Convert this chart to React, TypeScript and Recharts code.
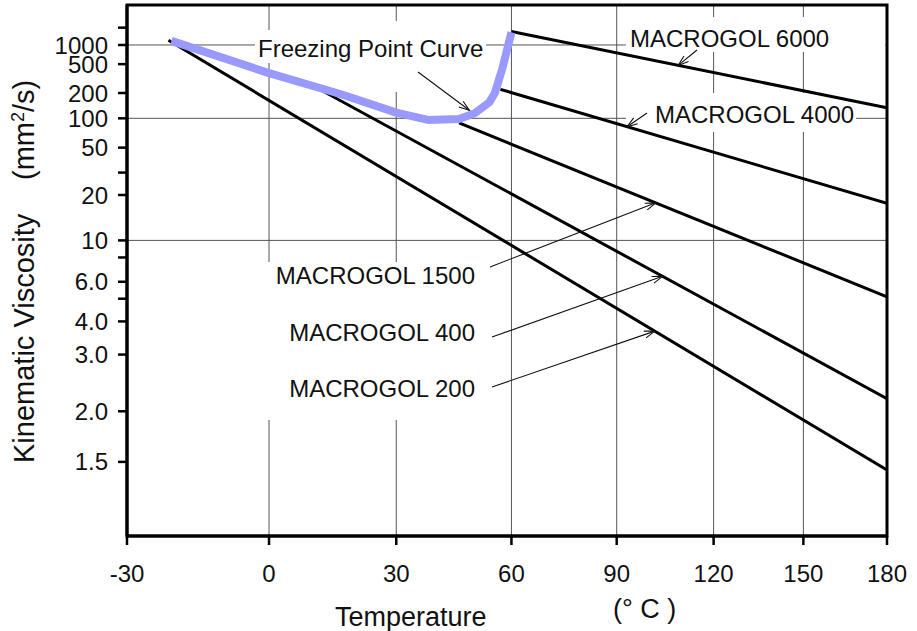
import { CartesianGrid, Line, LineChart, ReferenceArea, XAxis, YAxis } from "recharts";

const FONT = '"Liberation Sans", Arial, Helvetica, sans-serif';

// Temperatures in °C, kinematic viscosity in mm²/s.
const TEMP_TICKS = [-30, 0, 30, 60, 90, 120, 150, 180];
const VISC_TICKS = [2000, 1000, 500, 200, 100, 50, 30, 20, 10, 8, 6, 5, 4, 3, 2, 1.5];
const VISC_TICK_LABELS = ["", "1000", "500", "200", "100", "50", "", "20", "10", "", "6.0", "", "4.0", "3.0", "2.0", "1.5"];
const VISC_GRID = [1000, 100, 10];
const TEMP_RANGE = [-30, 180];
const VISC_RANGE = [1.085, 5500];

const M200_TEMP = [-21.6, 180];
const M200_VISC = [1200, 1.44];
const M400_TEMP = [11, 180];
const M400_VISC = [232, 2.17];
const M1500_TEMP = [46, 180];
const M1500_VISC = [89, 5.1];
const M4000_TEMP = [57, 180];
const M4000_VISC = [223, 17.4];
const M6000_TEMP = [60, 180];
const M6000_VISC = [1700, 132];
const FREEZE_TEMP = [-21, 0, 17, 30, 38, 46, 50, 54, 55.5, 57.6, 60];
const FREEZE_VISC = [1170, 370, 190, 116, 96, 98, 113, 153, 200, 445, 1650];

// ASTM-style chart paper: x ~ log(absolute temperature), y ~ log log(ν + 0.5).
const tx = (t: number) => Math.log10(t + 273.15);
const vy = (v: number) => Math.log10(Math.log10(v + 0.5));

const W = 917;
const H = 631;
const PLOT = { left: 127, top: 5, right: 887, bottom: 536 };
const X0 = tx(TEMP_RANGE[0]);
const X1 = tx(TEMP_RANGE[1]);
const Y0 = vy(VISC_RANGE[0]);
const Y1 = vy(VISC_RANGE[1]);

// Same mapping Recharts uses for the plot box; only needed to hang annotations on the lines.
const toPx = (t: number) => PLOT.left + ((tx(t) - X0) / (X1 - X0)) * (PLOT.right - PLOT.left);
const toPy = (v: number) => PLOT.top + ((Y1 - vy(v)) / (Y1 - Y0)) * (PLOT.bottom - PLOT.top);
const fromPx = (x: number) => X0 + ((x - PLOT.left) / (PLOT.right - PLOT.left)) * (X1 - X0);
const fromPy = (y: number) => Y1 - ((y - PLOT.top) / (PLOT.bottom - PLOT.top)) * (Y1 - Y0);

const toSeries = (temps: number[], visc: number[]) =>
  temps.map((t, i) => ({ x: tx(t), y: vy(visc[i]) }));

function pointOn(temps: number[], visc: number[], t: number): [number, number] {
  const xs = temps.map(toPx);
  const ys = visc.map(toPy);
  const x = toPx(t);
  for (let i = 0; i < xs.length - 1; i++) {
    if (x >= xs[i] && x <= xs[i + 1]) {
      const f = (x - xs[i]) / (xs[i + 1] - xs[i]);
      return [x, ys[i] + f * (ys[i + 1] - ys[i])];
    }
  }
  return [x, ys[ys.length - 1]];
}

// White boxes behind the annotation text (they hide the grid, not the curves).
const LABEL_BOXES = [
  [255, 30, 486, 63],
  [386, 21, 406, 92],
  [626, 17, 885, 52],
  [626, 93, 856, 132],
  [262, 262, 485, 420],
];

const freezeTip = pointOn(FREEZE_TEMP, FREEZE_VISC, 49.5);
const ARROWS: { from: [number, number]; to: [number, number] }[] = [
  { from: [418, 72], to: [freezeTip[0] - 3, freezeTip[1] - 4] },
  { from: [697, 50], to: pointOn(M6000_TEMP, M6000_VISC, 108.75) },
  { from: [647, 113], to: pointOn(M4000_TEMP, M4000_VISC, 93.1) },
  { from: [490, 267], to: pointOn(M1500_TEMP, M1500_VISC, 101.8) },
  { from: [492, 337], to: pointOn(M400_TEMP, M400_VISC, 103.9) },
  { from: [492, 387], to: pointOn(M200_TEMP, M200_VISC, 101.5) },
];

const TICK = { fill: "#111", fontSize: 24, fontFamily: FONT };
const TICK_LINE = { stroke: "#000", strokeWidth: 2.5 };
const AXIS_LINE = { stroke: "#000", strokeWidth: 3 };

const fmtTemp = (v: number) => String(Math.round(10 ** v - 273.15));
const fmtVisc = (v: number) => {
  const i = VISC_TICKS.findIndex((t) => Math.abs(vy(t) - v) < 1e-9);
  return i >= 0 ? VISC_TICK_LABELS[i] : "";
};

function Arrow({ from, to }: { from: [number, number]; to: [number, number] }) {
  const a = Math.atan2(to[1] - from[1], to[0] - from[0]);
  const len = 11;
  const s = 0.33;
  const p1 = [to[0] - len * Math.cos(a - s), to[1] - len * Math.sin(a - s)];
  const p2 = [to[0] - len * Math.cos(a + s), to[1] - len * Math.sin(a + s)];
  return (
    <g stroke="#111" strokeWidth={1.1} fill="none">
      <line x1={from[0]} y1={from[1]} x2={to[0]} y2={to[1]} />
      <polyline points={`${p1[0]},${p1[1]} ${to[0]},${to[1]} ${p2[0]},${p2[1]}`} />
    </g>
  );
}

export default function App() {
  const black = { stroke: "#000", strokeWidth: 3, dot: false, activeDot: false, isAnimationActive: false };
  return (
    <div style={{ position: "absolute", left: 0, top: 0, width: W, height: H, background: "#fff" }}>
      <LineChart width={W} height={H} margin={{ top: PLOT.top, right: W - PLOT.right, bottom: 0, left: 0 }}>
        <CartesianGrid stroke="#555" strokeWidth={1} horizontalValues={VISC_GRID.map(vy)} />
        <XAxis
          type="number"
          dataKey="x"
          domain={[X0, X1]}
          ticks={TEMP_TICKS.map(tx)}
          interval={0}
          allowDataOverflow
          height={H - PLOT.bottom}
          tickSize={9}
          tickMargin={20}
          tickFormatter={fmtTemp}
          tick={TICK}
          tickLine={TICK_LINE}
          axisLine={AXIS_LINE}
        />
        <YAxis
          type="number"
          dataKey="y"
          domain={[Y0, Y1]}
          ticks={VISC_TICKS.map(vy)}
          interval={0}
          allowDataOverflow
          width={PLOT.left}
          tickSize={9}
          tickMargin={10}
          tickFormatter={fmtVisc}
          tick={TICK}
          tickLine={TICK_LINE}
          axisLine={AXIS_LINE}
        />
        {LABEL_BOXES.map(([l, t, r, b], i) => (
          <ReferenceArea
            key={i}
            x1={fromPx(l)}
            x2={fromPx(r)}
            y1={fromPy(b)}
            y2={fromPy(t)}
            fill="#fff"
            fillOpacity={1}
            stroke="none"
          />
        ))}
        <Line data={toSeries(M200_TEMP, M200_VISC)} dataKey="y" {...black} />
        <Line data={toSeries(M400_TEMP, M400_VISC)} dataKey="y" {...black} />
        <Line data={toSeries(M1500_TEMP, M1500_VISC)} dataKey="y" {...black} />
        <Line data={toSeries(M4000_TEMP, M4000_VISC)} dataKey="y" {...black} />
        <Line data={toSeries(M6000_TEMP, M6000_VISC)} dataKey="y" {...black} />
        <Line
          data={toSeries(FREEZE_TEMP, FREEZE_VISC)}
          dataKey="y"
          stroke="#9999ff"
          strokeWidth={8}
          strokeLinejoin="round"
          dot={false}
          activeDot={false}
          isAnimationActive={false}
        />
      </LineChart>
      <svg
        width={W}
        height={H}
        style={{ position: "absolute", left: 0, top: 0, pointerEvents: "none" }}
        fontFamily={FONT}
        fill="#111"
      >
        <rect
          x={PLOT.left}
          y={PLOT.top}
          width={PLOT.right - PLOT.left}
          height={PLOT.bottom - PLOT.top}
          fill="none"
          stroke="#000"
          strokeWidth={3}
        />
        {ARROWS.map((a, i) => (
          <Arrow key={i} from={a.from} to={a.to} />
        ))}
        <g fontSize={24}>
          <text x={258} y={56.5}>Freezing Point Curve</text>
          <text x={630} y={46.5}>MACROGOL 6000</text>
          <text x={655} y={122.5}>MACROGOL 4000</text>
          <text x={475} y={284} textAnchor="end">MACROGOL 1500</text>
          <text x={475} y={340.5} textAnchor="end">MACROGOL 400</text>
          <text x={475} y={396.5} textAnchor="end">MACROGOL 200</text>
        </g>
        <g fontSize={27}>
          <text x={335} y={626}>Temperature</text>
          <text x={613} y={617.5}>(° C )</text>
        </g>
        <g fontSize={29}>
          <text x={34} y={463} transform="rotate(-90 34 463)">Kinematic Viscosity</text>
          <text x={34} y={180} transform="rotate(-90 34 180)">
            (mm<tspan dy={-10} fontSize={18}>2</tspan>
            <tspan dy={10}>/s)</tspan>
          </text>
        </g>
      </svg>
    </div>
  );
}
